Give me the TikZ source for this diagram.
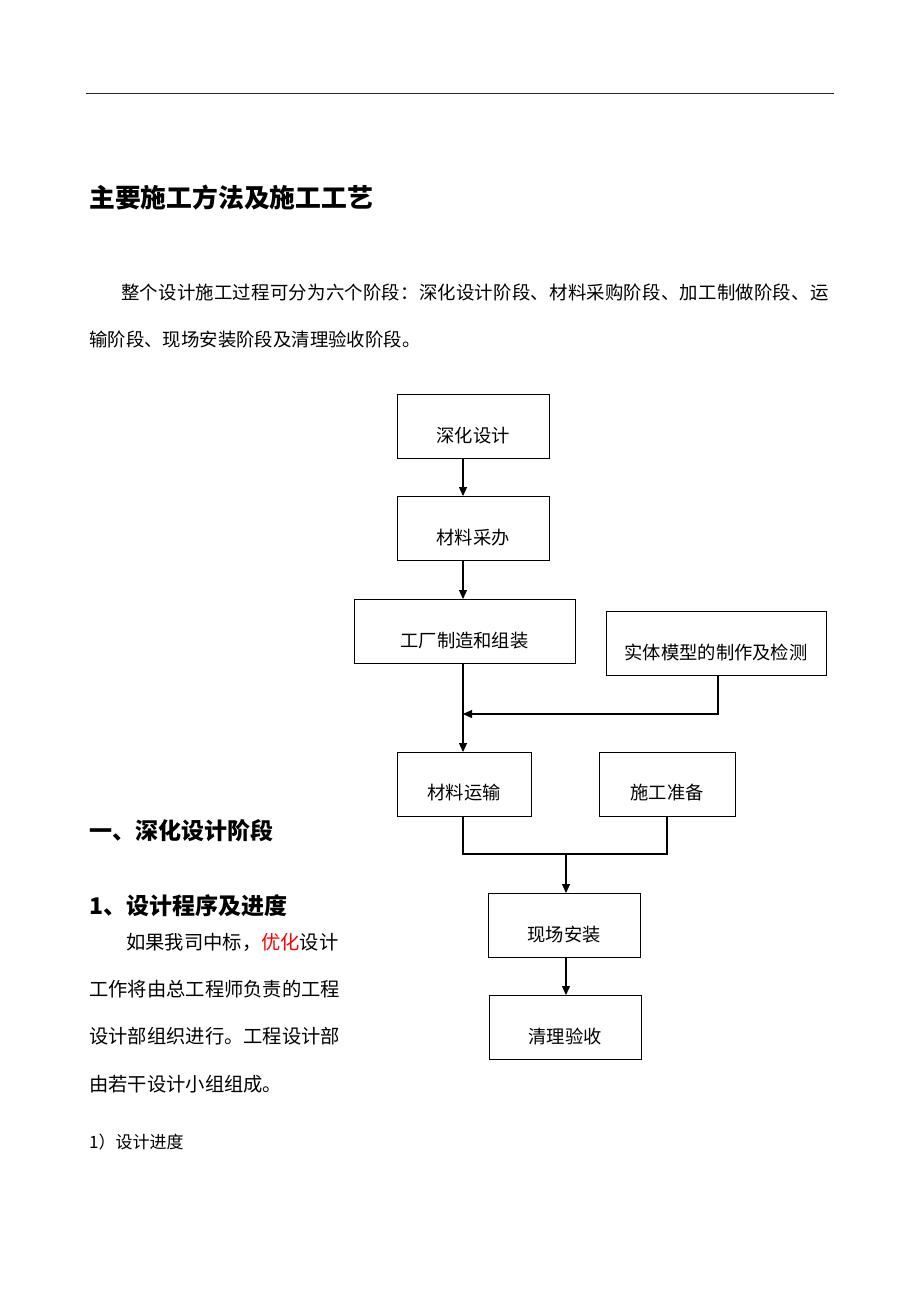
\documentclass[tikz,border=0pt]{standalone}
\usepackage{fontspec}
\setmainfont{Noto Sans CJK SC}
\usetikzlibrary{arrows.meta}
\tikzset{
  box/.style={draw=black,line width=0.9pt,inner sep=0pt},
  lbl/.style={inner sep=0pt,font=\fontsize{18.3pt}{20pt}\selectfont},
  txt/.style={inner sep=0pt,anchor=west,font=\fontsize{18.4pt}{20pt}\selectfont},
  ltxt/.style={inner sep=0pt,anchor=west,font=\fontsize{19.3pt}{21pt}\selectfont},
  head/.style={inner sep=0pt,anchor=west,font=\fontsize{23pt}{25pt}\selectfont\bfseries},
  conn/.style={line width=1.1pt},
  arr/.style={line width=1.1pt,-{Triangle[length=9pt,width=8pt]}}
}
\begin{document}
\begin{tikzpicture}[x=1pt,y=-1pt]
\fill[white] (0,0) rectangle (920,1302);
\useasboundingbox (0,0) rectangle (920,1302);
% top rule
\coordinate (r1) at (86,93);
\coordinate (r2) at (834,93);
\draw[line width=0.8pt,black!85] (r1) -- (r2);
% title
\node[head,font=\fontsize{25.8pt}{28pt}\selectfont\bfseries] (title) at (89,198) {主要施工方法及施工工艺};
% paragraph
\node[txt,font=\fontsize{18.4pt}{20pt}\selectfont\addfontfeatures{LetterSpace=1.2}] (p1) at (121,292) {整个设计施工过程可分为六个阶段：深化设计阶段、材料采购阶段、加工制做阶段、运};
\node[txt] (p2) at (89,339) {输阶段、现场安装阶段及清理验收阶段。};
% boxes
\node[box,minimum width=152pt,minimum height=64pt] (b1) at (473,426) {};
\node[lbl] (t1) at (473,436) {深化设计};
\node[box,minimum width=152pt,minimum height=64pt] (b2) at (473,528) {};
\node[lbl] (t2) at (473,538) {材料采办};
\node[box,minimum width=221pt,minimum height=64pt] (b3) at (464.5,631) {};
\node[lbl] (t3) at (464.5,641) {工厂制造和组装};
\node[box,minimum width=220pt,minimum height=64pt] (b4) at (716,643) {};
\node[lbl] (t4) at (716,652) {实体模型的制作及检测};
\node[box,minimum width=134pt,minimum height=64pt] (b5) at (464,784) {};
\node[lbl] (t5) at (464,793) {材料运输};
\node[box,minimum width=136pt,minimum height=64pt] (b6) at (667,784) {};
\node[lbl] (t6) at (667,793) {施工准备};
\node[box,minimum width=152pt,minimum height=64pt] (b7) at (564,925) {};
\node[lbl] (t7) at (564,935) {现场安装};
\node[box,minimum width=152pt,minimum height=64pt] (b8) at (565,1027) {};
\node[lbl] (t8) at (565,1036) {清理验收};
% connectors
\coordinate (c1) at (463,458);
\coordinate (c2) at (463,496);
\draw[arr] (c1) -- (c2);
\coordinate (c3) at (463,560);
\coordinate (c4) at (463,599);
\draw[arr] (c3) -- (c4);
\coordinate (c5) at (463,663);
\coordinate (c6) at (463,752);
\draw[arr] (c5) -- (c6);
\coordinate (j1) at (463,714);
\coordinate (c7) at (718,675);
\draw[arr] (c7) |- (j1);
\coordinate (c8) at (463,816);
\coordinate (c9) at (667,816);
\coordinate (j2) at (566,854);
\draw[conn] (c8) |- (j2) -| (c9);
\coordinate (c10) at (566,893);
\draw[arr] (j2) -- (c10);
\coordinate (c11) at (566,957);
\coordinate (c12) at (566,995);
\draw[arr] (c11) -- (c12);
% left text
\node[head] (h1) at (89,831) {一、深化设计阶段};
\node[head] (h2) at (89,906) {1、设计程序及进度};
\node[ltxt] (l1) at (126,942) {如果我司中标，\textcolor{red}{优化}设计};
\node[ltxt] (l2) at (89,989) {工作将由总工程师负责的工程};
\node[ltxt] (l3) at (89,1036) {设计部组织进行。工程设计部};
\node[ltxt] (l4) at (89,1084) {由若干设计小组组成。};
\node[txt,font=\fontsize{17pt}{19pt}\selectfont] (l5) at (89,1142) {1）设计进度};
\end{tikzpicture}
\end{document}
